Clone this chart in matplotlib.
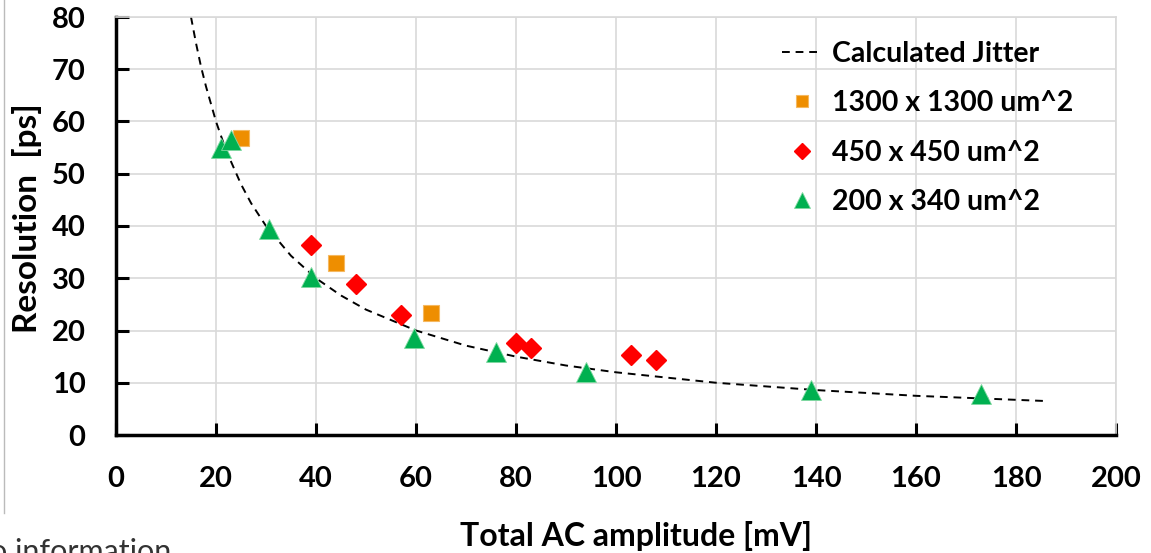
import matplotlib
matplotlib.use("Agg")
import matplotlib.pyplot as plt
from matplotlib.lines import Line2D

plt.rcParams['font.family'] = ['Lato', 'DejaVu Sans']

# Calculated jitter curve
jit_x = [15, 16, 17, 18, 20, 22, 25, 27, 30, 35, 40, 45, 50, 60, 70, 80, 90, 100, 120, 140, 160, 186]
jit_y = [80, 75, 70.5, 66.7, 60, 54.5, 48, 44.4, 40, 34.3, 30, 26.7, 24, 20, 17.1, 15, 13.3, 12, 10, 8.6, 7.5, 6.5]

sq_x = [25, 44, 63]
sq_y = [56.8, 33, 23.4]

dm_x = [39, 48, 57, 80, 83, 103, 108]
dm_y = [36.4, 28.9, 22.9, 17.6, 16.6, 15.4, 14.3]

tr_x = [21, 23, 30.5, 39, 59.5, 76, 94, 139, 173]
tr_y = [55, 56.5, 39.5, 30.3, 18.6, 15.8, 12.0, 8.7, 7.8]

labels = ["Calculated Jitter", "1300 x 1300 um^2", "450 x 450 um^2", "200 x 340 um^2"]
x_ticks = list(range(0, 201, 20))
y_ticks = list(range(0, 81, 10))

fig = plt.figure(figsize=(11.51, 5.53), dpi=100)
ax = fig.add_axes([116/1151, (553-435)/553, 1000/1151, 418/553])

ax.plot(jit_x, jit_y, ls=(0, (4, 3)), color='black', lw=1.4, label=labels[0], zorder=2)
ax.plot(sq_x, sq_y, ls='none', marker='s', ms=11.5, color='#EE8E00', mec='#F5B860', mew=0.8, label=labels[1], zorder=3)
ax.plot(dm_x, dm_y, ls='none', marker='D', ms=10.5, color='#FF0000', mec='#FF0000', label=labels[2], zorder=3)
ax.plot(tr_x, tr_y, ls='none', marker='^', ms=15, color='#00B050', mec='#7FD8A0', mew=0.6, label=labels[3], zorder=4)

ax.set_xlim(0, 200)
ax.set_ylim(0, 80)
ax.set_xticks(x_ticks)
ax.set_yticks(y_ticks)
ax.grid(True, color='#D9D9D9', lw=1.2)
ax.set_axisbelow(True)
for s in ['top', 'right']:
    ax.spines[s].set_visible(True)
    ax.spines[s].set_color('#D9D9D9')
    ax.spines[s].set_linewidth(1.2)
for s in ['left', 'bottom']:
    ax.spines[s].set_linewidth(2.5)
    ax.spines[s].set_color('black')

ax.tick_params(axis='x', direction='in', length=9, width=2.2, pad=22, labelsize=21)
ax.tick_params(axis='y', direction='in', length=9, width=2.2, pad=22, labelsize=21)
for t in ax.get_xticklabels() + ax.get_yticklabels():
    t.set_fontweight('bold')

ax.set_xlabel("Total AC amplitude [mV]", fontsize=23, fontweight='bold')
ax.xaxis.set_label_coords(0.52, -0.205)
ax.set_ylabel("Resolution  [ps]", fontsize=24, fontweight='bold')
ax.yaxis.set_label_coords(-0.074, 0.52)

leg = ax.legend(loc='upper left', bbox_to_anchor=((782-116)/1000, (435-41)/418), frameon=False,
                handlelength=1.4, handletextpad=0.35, labelspacing=0.82, markerscale=0.8,
                borderaxespad=0, borderpad=0,
                prop={'weight': 'bold', 'size': 20.5})

fig.add_artist(Line2D([4/1151, 4/1151], [1, (553-513)/553], transform=fig.transFigure,
                      color='#BBBBBB', lw=1))
fig.text(-0.009, -0.014, "o information", fontsize=22, color='#333333', va='baseline', ha='left')

fig.savefig("out.png", dpi=100)
